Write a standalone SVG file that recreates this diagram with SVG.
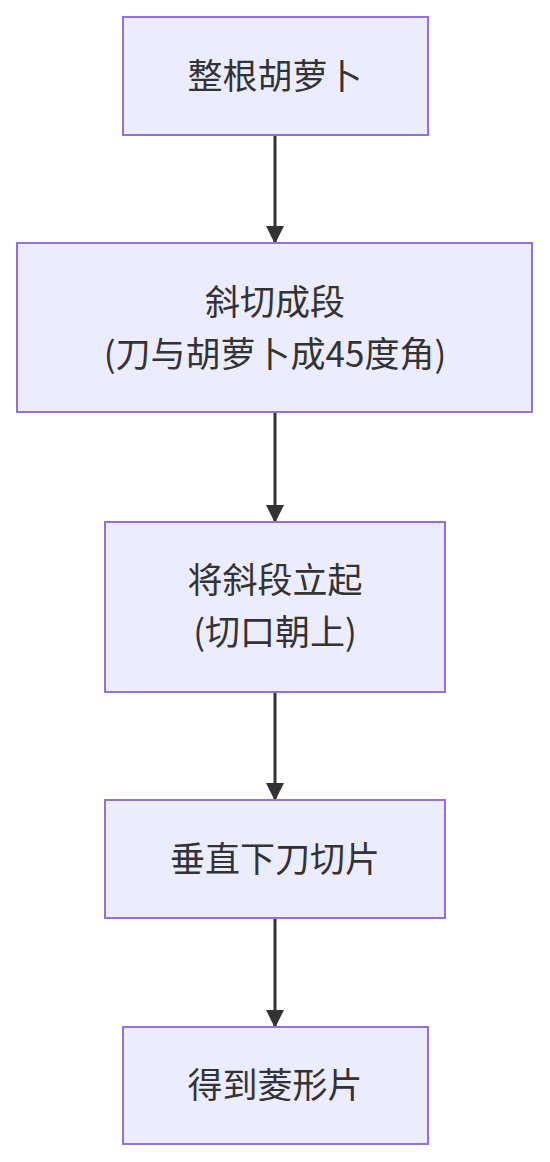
<svg xmlns="http://www.w3.org/2000/svg" width="550" height="1162" viewBox="0 0 550 1162">
<style>
.node rect{fill:#ECECFF;stroke:#9370DB;stroke-width:2}
.node text{font-family:"Noto Sans CJK SC","Microsoft YaHei",sans-serif;font-size:35px;fill:#333333;text-anchor:middle}
.edge{stroke:#333333;stroke-width:3;fill:none}
</style>
<defs>
<marker id="arrow" markerUnits="userSpaceOnUse" markerWidth="18" markerHeight="18" refX="17" refY="9" orient="auto">
<path d="M0,0 L18,9 L0,18 Z" fill="#333333"/>
</marker>
</defs>
<rect width="550" height="1162" fill="#FFFFFF"/>
<g id="connectors">
<line class="edge" x1="275" y1="135" x2="275" y2="243" marker-end="url(#arrow)"/>
<line class="edge" x1="275" y1="412" x2="275" y2="522" marker-end="url(#arrow)"/>
<line class="edge" x1="275" y1="692" x2="275" y2="800" marker-end="url(#arrow)"/>
<line class="edge" x1="275" y1="918" x2="275" y2="1027" marker-end="url(#arrow)"/>
</g>
<g id="node1" class="node">
<rect x="123" y="17" width="305" height="118"/>
<text x="275" y="89">整根胡萝卜</text>
</g>
<g id="node2" class="node">
<rect x="17" y="243" width="515" height="169"/>
<text x="275" y="315">斜切成段</text>
<text x="275" y="367">(刀与胡萝卜成45度角)</text>
</g>
<g id="node3" class="node">
<rect x="105" y="522" width="340" height="170"/>
<text x="275" y="593">将斜段立起</text>
<text x="275" y="645">(切口朝上)</text>
</g>
<g id="node4" class="node">
<rect x="105" y="800" width="340" height="118"/>
<text x="275" y="872">垂直下刀切片</text>
</g>
<g id="node5" class="node">
<rect x="123" y="1027" width="305" height="117"/>
<text x="275" y="1098">得到菱形片</text>
</g>
</svg>
